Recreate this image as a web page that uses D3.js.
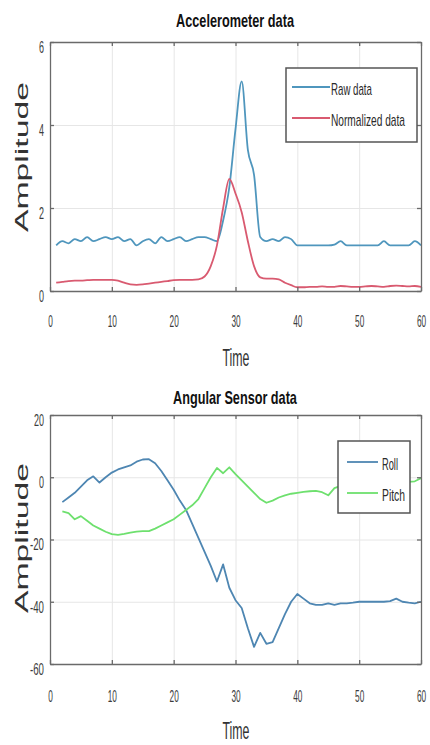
<!DOCTYPE html>
<meta charset="utf-8">
<style>
body { margin: 0; background: #fff; font-family: "Liberation Sans", Arial, sans-serif; }
.grid line { stroke: #e6e6e6; stroke-width: 1; }
.grid path { display: none; }
.axis path, .axis line { stroke: #6a6a6a; stroke-width: 1.3; fill: none; }
.axis text { fill: #3c3c3c; font-size: 17px; }
</style>
<script src="https://d3js.org/d3.v7.min.js"></script>
<body>
<div id="chart"></div>
<script>
// accelerometer data, t = 1..60
var accTime = d3.range(1, 61);
var rawData = [1.1, 1.2, 1.15, 1.25, 1.2, 1.3, 1.2, 1.25, 1.3, 1.25,
               1.3, 1.2, 1.25, 1.1, 1.2, 1.25, 1.15, 1.3, 1.2, 1.25,
               1.3, 1.2, 1.25, 1.3, 1.3, 1.25, 1.2, 1.7, 2.5, 3.9,
               5.05, 3.4, 2.8, 1.3, 1.2, 1.25, 1.2, 1.3, 1.25, 1.1,
               1.1, 1.1, 1.1, 1.1, 1.1, 1.12, 1.2, 1.1, 1.1, 1.1,
               1.1, 1.1, 1.1, 1.2, 1.1, 1.1, 1.1, 1.1, 1.2, 1.1];
var normData = [0.2, 0.22, 0.24, 0.25, 0.25, 0.26, 0.27, 0.27, 0.27, 0.27,
                0.25, 0.2, 0.16, 0.15, 0.16, 0.18, 0.2, 0.22, 0.24, 0.26,
                0.27, 0.27, 0.27, 0.28, 0.35, 0.6, 1.1, 2.0, 2.7, 2.35,
                1.9, 1.2, 0.6, 0.33, 0.3, 0.3, 0.28, 0.2, 0.14, 0.09,
                0.09, 0.1, 0.1, 0.11, 0.1, 0.1, 0.12, 0.11, 0.1, 0.1,
                0.11, 0.12, 0.11, 0.1, 0.12, 0.13, 0.12, 0.11, 0.12, 0.1];

// angular sensor data, t = 2..60
var angTime = d3.range(2, 61);
var rollData = [-8, -6.5, -5, -3, -1, 0.3, -1.7, 0, 1.5, 2.5,
                3.2, 3.8, 5, 5.7, 5.8, 4.5, 2, -1, -4, -7.5,
                -10.5, -15, -19.5, -24, -28.5, -33.5, -28, -35.5, -39.5, -42,
                -48.5, -54.5, -50, -53.5, -53, -48.5, -44, -40, -37.5, -39,
                -40.5, -41, -41, -40.5, -41, -40.5, -40.5, -40.3, -40, -40,
                -40, -40, -40, -39.8, -39, -40, -40.3, -40.5, -40];
var pitchData = [-11, -11.5, -13.5, -12.5, -14, -15.5, -16.5, -17.5, -18.3, -18.5,
                 -18.2, -17.8, -17.5, -17.3, -17.3, -16.5, -15.5, -14.5, -13.5, -12,
                 -10.5, -9, -7, -3.5, 0, 3, 1.3, 3.2, 1, -1,
                 -3, -5, -7, -8.2, -7.5, -6.5, -5.8, -5.3, -5, -4.7,
                 -4.5, -4.4, -4.8, -5.8, -3.5, -2.8, -2.5, -2.5, -2.3, -2.2,
                 -2.2, -2, -2, -1.8, -1.8, -1.7, -1.5, -1.3, -0.3];

var xTicks = [0, 10, 20, 30, 40, 50, 60];
var accTicks = [0, 2, 4, 6];
var angTicks = [-60, -40, -20, 0, 20];

var svg = d3.select("#chart").append("svg")
    .attr("width", 430)
    .attr("height", 745);

// squeeze a text horizontally to a given width, about its own x,y
function squeeze(sel, lenFn, rotate) {
  sel.each(function(d) {
    var t = d3.select(this);
    var len = typeof lenFn == "function" ? lenFn(d) : lenFn;
    var w = this.getComputedTextLength();
    var x = +t.attr("x") || 0, y = +t.attr("y") || 0;
    var tr = "translate(" + x + "," + y + ") scale(" + (len / w) + ",1) translate(" + (-x) + "," + (-y) + ")";
    if (rotate) tr = "rotate(-90," + x + "," + y + ") " + tr;
    t.attr("transform", tr);
  });
}

function label(g, txt, x, y, size, len, opts) {
  opts = opts || {};
  var t = g.append("text")
    .attr("x", x).attr("y", y)
    .attr("text-anchor", opts.anchor || "middle")
    .style("font-size", size + "px")
    .style("font-weight", opts.bold ? "bold" : "normal")
    .style("fill", opts.fill || "#2a2a2a")
    .text(txt);
  squeeze(t, len, opts.rotate);
  return t;
}

function drawPanel(cfg) {
  var x = d3.scaleLinear().domain([0, 60]).range([50, 421]);
  var y = d3.scaleLinear().domain(cfg.yDomain).range([cfg.bottom, cfg.top]);
  var g = svg.append("g");

  // grid
  g.append("g").attr("class", "grid")
    .attr("transform", "translate(0," + cfg.bottom + ")")
    .call(d3.axisBottom(x).tickValues(xTicks).tickSize(-(cfg.bottom - cfg.top)).tickFormat(""));
  g.append("g").attr("class", "grid")
    .attr("transform", "translate(50,0)")
    .call(d3.axisLeft(y).tickValues(cfg.yTicks).tickSize(-371).tickFormat(""));

  // lines
  cfg.series.forEach(function(s) {
    g.append("path")
      .datum(s.values)
      .attr("fill", "none")
      .attr("stroke", s.color)
      .attr("stroke-width", 1.8)
      .attr("stroke-linejoin", "round")
      .attr("d", d3.line()
        .curve(cfg.curve)
        .x(function(d, i) { return x(cfg.time[i]); })
        .y(function(d) { return y(d); }));
  });

  // box axes with inward ticks
  var bx = g.append("g").attr("class", "axis")
    .attr("transform", "translate(0," + cfg.bottom + ")")
    .call(d3.axisBottom(x).tickValues(xTicks).tickSizeInner(-4).tickSizeOuter(0)
      .tickFormat(function(d) { return String(d); }));
  bx.selectAll("text").attr("y", cfg.xLabelY).attr("dy", 0);
  squeeze(bx.selectAll("text"), function(d) { return String(d).length * 4.6; });
  g.append("g").attr("class", "axis")
    .attr("transform", "translate(0," + cfg.top + ")")
    .call(d3.axisTop(x).tickValues(xTicks).tickSizeInner(-4).tickSizeOuter(0).tickFormat(""));
  var ly = g.append("g").attr("class", "axis")
    .attr("transform", "translate(50,0)")
    .call(d3.axisLeft(y).tickValues(cfg.yTicks).tickSizeInner(-4).tickSizeOuter(0).tickPadding(6)
      .tickFormat(function(d) { return String(d); }));
  ly.selectAll("text").attr("y", 5);
  squeeze(ly.selectAll("text"), function(d) {
    var s = String(d); return s.replace("-", "").length * 5 + (s[0] == "-" ? 4 : 0);
  });
  g.append("g").attr("class", "axis")
    .attr("transform", "translate(421,0)")
    .call(d3.axisRight(y).tickValues(cfg.yTicks).tickSizeInner(-4).tickSizeOuter(0).tickFormat(""));

  // titles
  label(g, cfg.title, 235, cfg.titleY, 18, cfg.titleLen, { bold: true, fill: "#111" });
  label(g, "Time", 236, cfg.timeY, 24, 27, { fill: "#333" });
  label(g, "Amplitude", 28, cfg.ampY, 18, 150, { rotate: true, fill: "#333" });

  // legend
  var L = cfg.legend;
  g.append("rect")
    .attr("x", L.x).attr("y", L.y).attr("width", L.w).attr("height", L.h)
    .attr("fill", "#fff").attr("stroke", "#555").attr("stroke-width", 1.5);
  cfg.series.forEach(function(s, i) {
    var yy = L.rowY[i];
    g.append("line")
      .attr("x1", L.lineX[0]).attr("x2", L.lineX[1])
      .attr("y1", yy).attr("y2", yy)
      .attr("stroke", s.color).attr("stroke-width", 1.8);
    label(g, s.name, L.textX, yy + L.baseOff, L.size, s.len, { anchor: "start" });
  });
}

drawPanel({
  title: "Accelerometer data", titleY: 27, titleLen: 118,
  top: 42, bottom: 291, yDomain: [0, 6], yTicks: accTicks,
  xLabelY: 36, timeY: 366, ampY: 157,
  time: accTime, curve: d3.curveMonotoneX,
  series: [
    { name: "Raw data", values: rawData, color: "#4f96bd", len: 41 },
    { name: "Normalized data", values: normData, color: "#d95a70", len: 74 }
  ],
  legend: { x: 286, y: 68, w: 131, h: 74, rowY: [87, 118], lineX: [292, 330], textX: 331, baseOff: 8, size: 16 }
});

drawPanel({
  title: "Angular Sensor data", titleY: 404, titleLen: 124,
  top: 415, bottom: 664, yDomain: [-60, 20], yTicks: angTicks,
  xLabelY: 38, timeY: 739, ampY: 538,
  time: angTime, curve: d3.curveLinear,
  series: [
    { name: "Roll", values: rollData, color: "#4e86b2", len: 16 },
    { name: "Pitch", values: pitchData, color: "#6ee06e", len: 23 }
  ],
  legend: { x: 338, y: 441, w: 72, h: 72, rowY: [462, 493], lineX: [347, 378], textX: 382, baseOff: 8, size: 17 }
});
</script>
</body>
